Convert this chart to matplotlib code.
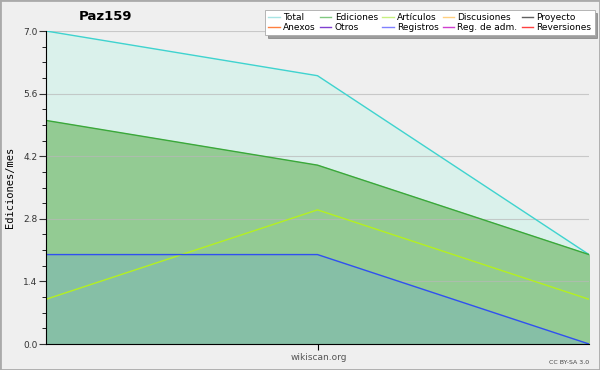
import matplotlib
matplotlib.use("Agg")
import matplotlib.pyplot as plt
from matplotlib.patches import Rectangle
from matplotlib.lines import Line2D
from matplotlib.ticker import MultipleLocator

# data (three monthly points)
months = [0, 1, 2]
total = [7.0, 6.0, 2.0]
ediciones = [5.0, 4.0, 2.0]
articulos = [1.0, 3.0, 1.0]
registros = [2.0, 2.0, 0.0]

legend_names = ["Total", "Anexos", "Ediciones", "Otros", "Artículos", "Registros",
                "Discusiones", "Reg. de adm.", "Proyecto", "Reversiones"]
legend_colors = ["#a8e4e4", "#ff8040", "#80c880", "#8040d0", "#c8f080", "#8080ff",
                 "#ffd080", "#d040d0", "#606060", "#ff4040"]

bg = "#efefef"
fig = plt.figure(figsize=(6, 3.7), dpi=100, facecolor=bg)
ax = fig.add_axes([46/600, 26/370, 543/600, 313/370])
ax.set_facecolor(bg)

ax.fill_between(months, total, color="#daf1eb", zorder=1)
ax.fill_between(months, ediciones, color="#93cb93", zorder=2)
ax.fill_between(months, registros, color="#86bfa6", zorder=3)
ax.plot(months, total, color="#3fd3cf", lw=1, zorder=5)
ax.plot(months, ediciones, color="#3aa83a", lw=1, zorder=5)
ax.plot(months, articulos, color="#b4f020", lw=1, zorder=5)
ax.plot(months, registros, color="#3050f0", lw=1, zorder=5)

ax.set_xlim(0, 2)
ax.set_ylim(0, 7.0)
ax.yaxis.set_major_locator(MultipleLocator(1.4))
ax.yaxis.set_minor_locator(MultipleLocator(0.35))
ax.set_xticks([1])
ax.set_xticklabels([""])
ax.grid(axis="y", which="major", color="#b8b8b8", lw=0.8, alpha=0.7, zorder=4)
ax.set_axisbelow(False)
for s in ["top", "right"]:
    ax.spines[s].set_visible(False)
ax.spines["left"].set_zorder(6)
ax.spines["bottom"].set_zorder(6)
ax.tick_params(axis="y", which="major", length=5, labelsize=6.5, pad=1, colors="#333333")
ax.tick_params(axis="y", which="minor", length=3)
ax.tick_params(axis="x", length=4)
ax.set_yticklabels([f"{v:.1f}" for v in ax.get_yticks()])
ax.set_ylabel("Ediciones/mes", family="DejaVu Sans Mono", fontsize=7.5, labelpad=6)

fig.text(105/600, 1 - 17/370, "Paz159", fontsize=9.5, fontweight="bold", ha="center", va="center")
fig.text(319/600, 1 - 357/370, "wikiscan.org", fontsize=6.5, color="#555555", ha="center", va="center")
fig.text(589/600, 1 - 362/370, "CC BY-SA 3.0", fontsize=4.5, color="#444444", ha="right", va="center")

handles = [Line2D([], [], color=c, lw=1) for c in legend_colors]
leg = fig.legend(handles, legend_names, loc="upper left", bbox_to_anchor=(265/600, 1 - 10/370),
                 ncol=5, fontsize=6.5, frameon=True, fancybox=False, shadow=True,
                 handlelength=1.3, handletextpad=0.35, columnspacing=0.45,
                 labelspacing=0.1, borderpad=0.35, borderaxespad=0)
leg.get_frame().set_edgecolor("#aaaaaa")
leg.get_frame().set_linewidth(0.6)

fig.patches.append(Rectangle((0, 0), 1, 1, transform=fig.transFigure, fill=False,
                             edgecolor="#aaaaaa", lw=2))

fig.savefig("out.png", dpi=100, facecolor=bg)
